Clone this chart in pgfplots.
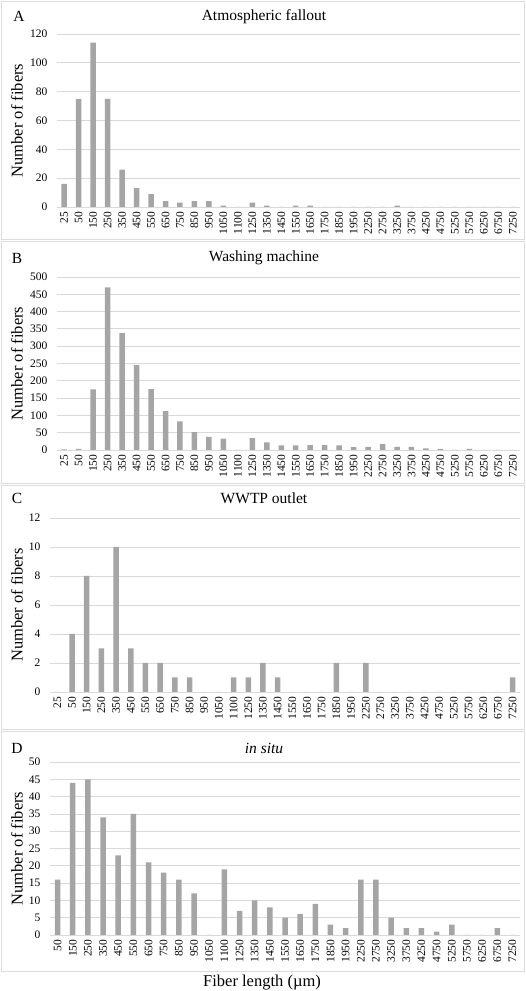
\documentclass[border=0pt]{standalone}
\usepackage{fontspec}
\setmainfont{Liberation Serif}
\usepackage{pgfplots}
\pgfplotsset{compat=1.18}

\definecolor{bargray}{HTML}{A5A5A5}
\definecolor{gridgray}{HTML}{D9D9D9}
\definecolor{framegray}{HTML}{DCDCDC}

\pgfplotsset{
  panel/.style={
    scale only axis,
    anchor=south west,
    ybar,
    bar width=5.5pt,
    ymin=0,
    xmin=-0.5,
    axis line style={draw=none},
    major tick length=0pt,
    ymajorgrids,
    grid style={gridgray, line width=0.8pt},
    xtick={0,...,31},
    tick label style={font=\fontsize{11.5}{12}\selectfont},
    /pgf/number format/assume math mode=true,
    xticklabel style={rotate=90, anchor=east, xshift=-1pt},
    yticklabel style={xshift=-6pt},
  },
}

\begin{document}
\begin{tikzpicture}
\useasboundingbox (0pt,0pt) rectangle (526pt,991pt);
\fill[white] (0pt,0pt) rectangle (526pt,991pt);
% panel frames
\draw[framegray, line width=0.8pt] (1.5pt,990pt) rectangle (524.5pt,752pt);
\draw[framegray, line width=0.8pt] (1.5pt,750pt) rectangle (524.5pt,508pt);
\draw[framegray, line width=0.8pt] (1.5pt,506pt) rectangle (524.5pt,262pt);
\draw[framegray, line width=0.8pt] (1.5pt,260pt) rectangle (524.5pt,20pt);

% ---------- A ----------
\begin{axis}[panel, at={(57pt,784pt)}, width=463pt, height=173pt,
  xmax=31.5, ymax=120, ytick distance=20,
  xticklabels={25,50,150,250,350,450,550,650,750,850,950,1050,1100,1250,1350,1450,1550,1650,1750,1850,1950,2250,2750,3250,3750,4250,4750,5250,5750,6250,6750,7250}]
\addplot[fill=bargray, draw=none] coordinates {
 (0,16) (1,75) (2,114) (3,75) (4,26) (5,13) (6,9) (7,4) (8,3) (9,4)
 (10,4) (11,1) (12,0) (13,3) (14,1) (15,0) (16,1) (17,1) (18,0) (19,0)
 (20,0) (21,0) (22,0) (23,1) (24,0) (25,0) (26,0) (27,0) (28,0) (29,0)
 (30,0) (31,0)};
\end{axis}

% ---------- B ----------
\begin{axis}[panel, at={(57pt,541pt)}, width=463pt, height=173pt,
  xmax=31.5, ymax=500, ytick distance=50,
  xticklabels={25,50,150,250,350,450,550,650,750,850,950,1050,1100,1250,1350,1450,1550,1650,1750,1850,1950,2250,2750,3250,3750,4250,4750,5250,5750,6250,6750,7250}]
\addplot[fill=bargray, draw=none] coordinates {
 (0,2) (1,3) (2,175) (3,470) (4,338) (5,245) (6,176) (7,112) (8,83) (9,52)
 (10,38) (11,33) (12,0) (13,34) (14,22) (15,13) (16,13) (17,14) (18,14) (19,13)
 (20,8) (21,9) (22,17) (23,9) (24,9) (25,5) (26,3) (27,0) (28,3) (29,0)
 (30,0) (31,0)};
\end{axis}

% ---------- C ----------
\begin{axis}[panel, at={(50pt,299pt)}, width=470pt, height=174pt,
  xmax=31.5, ymax=12, ytick distance=2,
  xticklabels={25,50,150,250,350,450,550,650,750,850,950,1050,1100,1250,1350,1450,1550,1650,1750,1850,1950,2250,2750,3250,3750,4250,4750,5250,5750,6250,6750,7250}]
\addplot[fill=bargray, draw=none] coordinates {
 (0,0) (1,4) (2,8) (3,3) (4,10) (5,3) (6,2) (7,2) (8,1) (9,1)
 (10,0) (11,0) (12,1) (13,1) (14,2) (15,1) (16,0) (17,0) (18,0) (19,2)
 (20,0) (21,2) (22,0) (23,0) (24,0) (25,0) (26,0) (27,0) (28,0) (29,0)
 (30,0) (31,1)};
\end{axis}

% ---------- D ----------
\begin{axis}[panel, at={(50pt,56pt)}, width=470pt, height=173pt,
  xmax=30.5, ymax=50, ytick distance=5, xtick={0,...,30},
  xticklabels={50,150,250,350,450,550,650,750,850,950,1050,1100,1250,1350,1450,1550,1650,1750,1850,1950,2250,2750,3250,3750,4250,4750,5250,5750,6250,6750,7250}]
\addplot[fill=bargray, draw=none] coordinates {
 (0,16) (1,44) (2,45) (3,34) (4,23) (5,35) (6,21) (7,18) (8,16) (9,12)
 (10,0) (11,19) (12,7) (13,10) (14,8) (15,5) (16,6) (17,9) (18,3) (19,2)
 (20,16) (21,16) (22,5) (23,2) (24,2) (25,1) (26,3) (27,0) (28,0) (29,2)
 (30,0)};
\end{axis}

% titles, panel letters, axis labels
\begin{scope}[font=\fontsize{15.5}{18}\selectfont]
\node at (264pt,974pt) {Atmospheric fallout};
\node at (264pt,733pt) {Washing machine};
\node at (264pt,493pt) {WWTP outlet};
\node at (264pt,243pt) {\itshape in situ};
\node at (19pt,975pt) {A};
\node at (17pt,733pt) {B};
\node at (17pt,493pt) {C};
\node at (17pt,243pt) {D};
\end{scope}
\begin{scope}[font=\fontsize{16.5}{20}\selectfont]
\node[rotate=90] at (17pt,870.5pt) {Number of fibers};
\node[rotate=90] at (17pt,627.5pt) {Number of fibers};
\node[rotate=90] at (17pt,386pt) {Number of fibers};
\node[rotate=90] at (17pt,142.5pt) {Number of fibers};
\node at (262pt,8pt) {Fiber length (µm)};
\end{scope}
\end{tikzpicture}
\end{document}
